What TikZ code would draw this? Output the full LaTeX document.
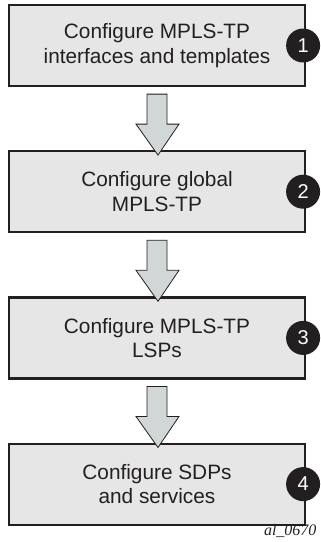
\documentclass[tikz,border=0pt]{standalone}
\usepackage{fontspec}
\setmainfont{Liberation Sans}
\newfontfamily\tagfont{Liberation Serif}
\usetikzlibrary{positioning,calc}
\definecolor{boxgray}{HTML}{E6E6E6}
\definecolor{arrowgray}{HTML}{D1D6D6}
\definecolor{inkgray}{HTML}{231F20}
\tikzset{
	stepbox/.style = {draw = inkgray, line width = 2.2pt, fill = boxgray, minimum width = 296pt, minimum height = 81pt, align = center, text = inkgray, font = \fontsize{20.8}{24.5}\selectfont},
	badge/.style = {circle, fill = inkgray, text = white, minimum size = 34pt, inner sep = 0pt, font = \fontsize{20}{20}\selectfont},
	flow/.style = {draw = inkgray, line width = 0.8pt, fill = arrowgray, line join = miter}
}
\begin{document}
\begin{tikzpicture}[x = 1pt, y = 1pt]
	\useasboundingbox (0,0) rectangle (321,-542);
	\node [stepbox] (s1) at (157,-45.5) {Configure MPLS-TP\\interfaces and templates};
	\node [stepbox, below = 63pt of s1] (s2) {Configure global\\MPLS-TP};
	\node [stepbox, below = 63pt of s2] (s3) {Configure MPLS-TP\\LSPs};
	\node [stepbox, below = 63pt of s3] (s4) {Configure SDPs\\and services};
	\node [badge] (n1) at ([xshift = -3pt]s1.east) {1};
	\node [badge] (n2) at ([xshift = -3pt]s2.east) {2};
	\node [badge] (n3) at ([xshift = -3pt]s3.east) {3};
	\node [badge] (n4) at ([xshift = -3pt]s4.east) {4};
	\foreach \a/\b in {s1/s2, s2/s3, s3/s4}
		\draw [flow] ($(\a.south) + (-10,-7)$) -- ($(\a.south) + (10,-7)$) -- ($(\a.south) + (10,-37)$) -- ($(\a.south) + (22,-37)$)
			-- ($(\b.north) + (1,-5)$) -- ($(\a.south) + (-21,-37)$) -- ($(\a.south) + (-10,-37)$) -- cycle;
	\node [anchor = base east, font = \tagfont\itshape\fontsize{16}{16}\selectfont, text = inkgray] (tag) at (320,-535) {al\_0670};
\end{tikzpicture}
\end{document}
